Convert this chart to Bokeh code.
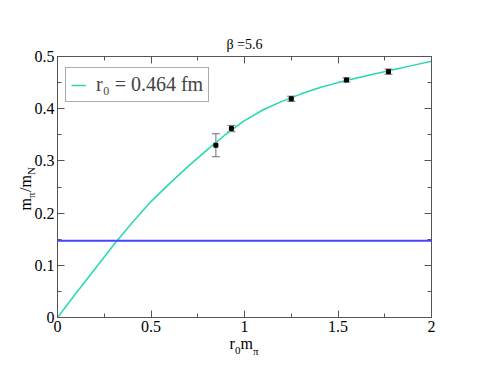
import math
from bokeh.plotting import figure
from bokeh.models import (ColumnDataSource, Whisker, TeeHead, Span, Label, LinearAxis,
                          Legend, LegendItem, SingleIntervalTicker, Range1d)
from bokeh.embed import file_html
from bokeh.resources import INLINE

# ---- data ----
x_pts = [0.847, 0.930, 1.250, 1.545, 1.770]
y_pts = [0.330, 0.362, 0.419, 0.455, 0.471]
y_err = [0.022, 0.006, 0.005, 0.004, 0.005]

fit_x = [0.0, 0.1, 0.2, 0.3, 0.4, 0.5, 0.6, 0.7, 0.8, 0.9, 1.0,
         1.1, 1.2, 1.3, 1.4, 1.5, 1.6, 1.7, 1.8, 1.9, 2.0]
fit_y = [0.0, 0.047, 0.093, 0.139, 0.182, 0.222, 0.257, 0.290, 0.321, 0.351, 0.377,
         0.398, 0.414, 0.428, 0.440, 0.450, 0.459, 0.467, 0.475, 0.483, 0.491]

phys_ratio = 0.147

title_text = "β =5.6"
legend_text = "r₀ = 0.464 fm"

FONT = "Liberation Serif"
GRAY = "#555555"

p = figure(frame_width=374, frame_height=261, output_backend="svg", toolbar_location=None,
           x_range=Range1d(0, 2), y_range=Range1d(0, 0.5),
           min_border_left=57, min_border_top=56, min_border_right=50, min_border_bottom=50,
           background_fill_color="white", border_fill_color="white")

p.xgrid.visible = False
p.ygrid.visible = False
p.outline_line_color = GRAY

p.title.text = title_text
p.title.align = "center"
p.title.text_font = FONT
p.title.text_font_size = "14px"
p.title.text_font_style = "normal"
p.title.text_color = "black"
p.title.standoff = 10

def style_axis(ax, labels=True):
    ax.axis_line_color = GRAY
    ax.major_tick_line_color = GRAY
    ax.minor_tick_line_color = GRAY
    ax.major_tick_in = 7
    ax.major_tick_out = 0
    ax.minor_tick_in = 4
    ax.minor_tick_out = 0
    ax.major_label_text_font = FONT
    ax.major_label_text_font_size = "16px"
    ax.major_label_text_color = "black" if labels else None
    ax.major_label_standoff = 3 if labels else 0
    ax.axis_label_standoff = 0

p.xaxis.ticker = SingleIntervalTicker(interval=0.5, num_minor_ticks=2)
p.yaxis.ticker = SingleIntervalTicker(interval=0.1, num_minor_ticks=2)
for ax in list(p.xaxis) + list(p.yaxis):
    style_axis(ax)

top_ax = LinearAxis(ticker=SingleIntervalTicker(interval=0.5, num_minor_ticks=2))
right_ax = LinearAxis(ticker=SingleIntervalTicker(interval=0.1, num_minor_ticks=2))
style_axis(top_ax, labels=False)
style_axis(right_ax, labels=False)
p.add_layout(top_ax, "above")
p.add_layout(right_ax, "right")

# physical point line
p.add_layout(Span(location=phys_ratio, dimension="width", line_color="#4646ff", line_width=2))

# fit curve
fit_r = p.line(fit_x, fit_y, line_color="#24d8b4", line_width=1.5)

# data with errors
src = ColumnDataSource(dict(x=x_pts, y=y_pts,
                            lo=[a - b for a, b in zip(y_pts, y_err)],
                            hi=[a + b for a, b in zip(y_pts, y_err)]))
p.add_layout(Whisker(source=src, base="x", lower="lo", upper="hi", dimension="height",
                     line_color="#707070", line_width=1,
                     lower_head=TeeHead(size=8, line_color="#707070", line_width=1),
                     upper_head=TeeHead(size=8, line_color="#707070", line_width=1)))
p.scatter("x", "y", source=src, marker="square", size=4, color="black")

# legend
leg = Legend(items=[LegendItem(label=legend_text, renderers=[fit_r])],
             location=(8, 215), label_text_font=FONT, label_text_font_size="20px",
             label_height=20, glyph_height=20, glyph_width=15, label_standoff=10,
             padding=5, spacing=0, margin=0,
             border_line_color=GRAY, border_line_width=1, background_fill_color="white",
             background_fill_alpha=1)
p.add_layout(leg, "center")

# axis titles with subscripts (canvas units, placed in the bottom side panel)
def lab(text, x, y, size, angle=0.0):
    p.add_layout(Label(x=x, y=y, x_units="canvas", y_units="canvas", text=text,
                       text_font=FONT, text_font_size=size, text_color="black",
                       text_align="left", text_baseline="alphabetic", angle=angle), "below")

# x: r_0 m_pi
lab("r", 229, 343, "16px")
lab("0", 234.5, 350, "11px")
lab("m", 240, 343, "16px")
lab("π", 252.5, 350, "11px")

# y: m_pi / m_N (rotated)
A = math.pi / 2
lab("m", 25, 210, "16px", A)
lab("π", 30, 197.5, "11px", A)
lab("/", 25, 191.5, "16px", A)
lab("m", 25, 187, "16px", A)
lab("N", 30, 174.5, "11px", A)

open("out.html", "w").write(file_html(p, INLINE))
